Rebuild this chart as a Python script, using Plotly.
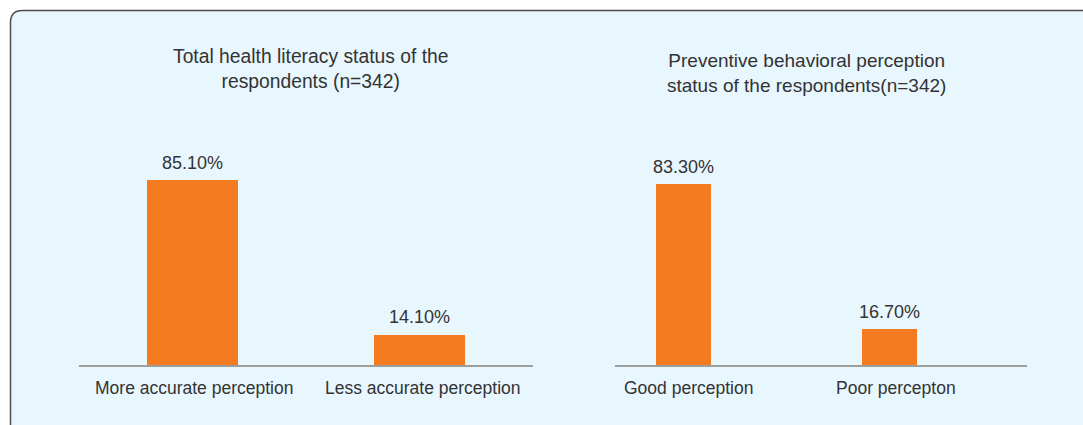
import plotly.graph_objects as go

W, H = 1083, 425

left_title = "Total health literacy status of the<br>respondents (n=342)"
left_categories = ["More accurate perception", "Less accurate perception"]
left_values = [85.1, 14.1]
left_labels = ["85.10%", "14.10%"]

right_title = "Preventive behavioral perception<br>status of the respondents(n=342)"
right_categories = ["Good perception", "Poor percepton"]
right_values = [83.3, 16.7]
right_labels = ["83.30%", "16.70%"]

BAR = "#f47b20"
TXT = "#333333"
FONT = "Liberation Sans, Arial, sans-serif"


def px(x):
    return x / W


def py(y):
    return 1 - y / H


fig = go.Figure()
fig.add_trace(go.Bar(x=left_categories, y=left_values, width=0.4,
                     marker=dict(color=BAR, line=dict(width=0)),
                     xaxis="x", yaxis="y", hoverinfo="skip"))
fig.add_trace(go.Bar(x=right_categories, y=right_values, width=0.267,
                     marker=dict(color=BAR, line=dict(width=0)),
                     xaxis="x2", yaxis="y2", hoverinfo="skip"))

annotations = []
label_shifts = {"x": [1, 3], "x2": [5, 6]}
for cats, vals, labs, xr, yr in [(left_categories, left_values, left_labels, "x", "y"),
                                 (right_categories, right_values, right_labels, "x2", "y2")]:
    for i, (c, v, l) in enumerate(zip(cats, vals, labs)):
        annotations.append(dict(x=c, y=v, xref=xr, yref=yr, text=l, showarrow=False,
                                yanchor="bottom", yshift=5,
                                font=dict(size=18, color=TXT, family=FONT)))
        # category label under the axis
        annotations.append(dict(x=c, y=py(376), xref=xr, yref="paper", text=c,
                                showarrow=False, yanchor="top", xshift=label_shifts[xr][i],
                                font=dict(size=17.5, color=TXT, family=FONT)))

annotations.append(dict(x=px(310), y=py(69), xref="paper", yref="paper", text=left_title,
                        showarrow=False, xanchor="center", yanchor="middle",
                        font=dict(size=19.3, color=TXT, family=FONT)))
annotations.append(dict(x=px(806), y=py(73), xref="paper", yref="paper", text=right_title,
                        showarrow=False, xanchor="center", yanchor="middle",
                        font=dict(size=19, color=TXT, family=FONT)))

# rounded panel
r = 12
x0, y0, x1, y1 = 10.5, 10.5, 1110, 450
path = (f"M {px(x0)},{py(y1)} L {px(x0)},{py(y0 + r)} "
        f"Q {px(x0)},{py(y0)} {px(x0 + r)},{py(y0)} "
        f"L {px(x1)},{py(y0)} L {px(x1)},{py(y1)} Z")

axis_common = dict(showgrid=False, zeroline=False, showline=True, linecolor="#9e9e9e",
                   linewidth=1.5, ticks="", showticklabels=False, fixedrange=True)
yaxis_common = dict(range=[0, 100], showgrid=False, zeroline=False, showline=False,
                    showticklabels=False, fixedrange=True)

ydom = [py(365), py(147.6)]

fig.update_layout(
    width=W, height=H,
    margin=dict(l=0, r=0, t=0, b=0),
    paper_bgcolor="white",
    plot_bgcolor="rgba(0,0,0,0)",
    showlegend=False,
    bargap=0,
    xaxis=dict(domain=[px(79), px(533)], range=[-0.5, 1.5], anchor="y", **axis_common),
    yaxis=dict(domain=ydom, anchor="x", **yaxis_common),
    xaxis2=dict(domain=[px(615), px(1027)], range=[-0.3325, 1.6675], anchor="y2", **axis_common),
    yaxis2=dict(domain=ydom, anchor="x2", **yaxis_common),
    shapes=[dict(type="path", path=path, xref="paper", yref="paper", layer="below",
                 fillcolor="#e8f6fe", line=dict(color="#4d4d4d", width=1.5))],
    annotations=annotations,
)

fig.write_html("out.html", config={"displayModeBar": False},
               post_script="document.body.style.margin='0px';document.body.style.overflow='hidden';")
